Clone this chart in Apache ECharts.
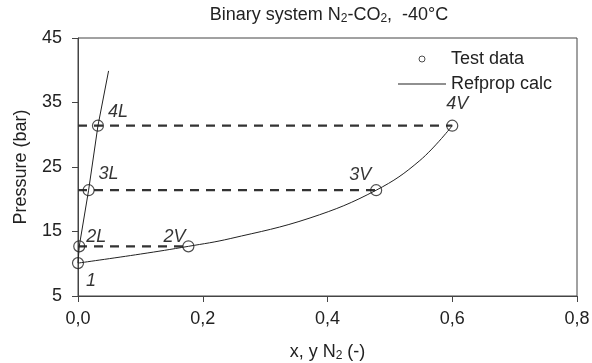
<!DOCTYPE html>
<html>
<head>
<meta charset="utf-8">
<script src="https://cdn.jsdelivr.net/npm/echarts@6/dist/echarts.min.js"></script>
<style>
  html, body { margin: 0; padding: 0; background: #fff; }
  #chart { width: 592px; height: 363px; }
</style>
</head>
<body>
<div id="chart"></div>
<script>
// test data points (x or y N2, pressure in bar)
var testNames = ['1', '2L', '2V', '3L', '3V', '4L', '4V'];
var testX = [0.000, 0.002, 0.177, 0.017, 0.478, 0.032, 0.600];
var testP = [10.1, 12.7, 12.7, 21.4, 21.4, 31.4, 31.4];

// refprop calc: bubble line and dew line
var bubbleX = [0.000, 0.002, 0.017, 0.032, 0.049];
var bubbleP = [10.1, 12.7, 21.4, 31.4, 39.9];
var dewX = [0.000, 0.100, 0.177, 0.244, 0.372, 0.478, 0.548, 0.600];
var dewP = [10.1, 11.5, 12.7, 13.9, 17.1, 21.4, 26.0, 31.4];

// tie lines L -> V (drawn from x = 0)
var tieP = [12.7, 21.4, 31.4];
var tieXV = [0.177, 0.478, 0.600];

var xTicks = [0, 0.2, 0.4, 0.6, 0.8];
var yTicks = [5, 15, 25, 35, 45];

// label offsets in px, relative to each point
var labelOffsets = [[13, 18], [17, -9], [-14, -9], [20, -16], [-16, -15], [20, -14], [5, -22]];

var font = 'Liberation Sans, Arial, sans-serif';
var dark = '#222';
var fs = 18;

function pairs(xs, ys) {
  return xs.map(function (x, i) { return [x, ys[i]]; });
}

var series = [];

tieP.forEach(function (p, i) {
  series.push({
    type: 'line',
    name: 'tie' + i,
    data: [[0, p], [tieXV[i], p]],
    symbol: 'none',
    silent: true,
    lineStyle: { color: '#333', width: 2.2, type: [9, 7] },
    z: 1
  });
});

series.push({
  type: 'line',
  name: 'Refprop calc',
  data: pairs(bubbleX, bubbleP),
  symbol: 'none',
  lineStyle: { color: dark, width: 1 },
  itemStyle: { color: dark },
  z: 2
});
series.push({
  type: 'line',
  name: 'Refprop calc',
  data: pairs(dewX, dewP),
  symbol: 'none',
  smooth: 0.4,
  lineStyle: { color: dark, width: 1 },
  itemStyle: { color: dark },
  z: 2
});

series.push({
  type: 'scatter',
  name: 'Test data',
  symbol: 'circle',
  symbolSize: 11,
  itemStyle: { color: 'rgba(255,255,255,0)', borderColor: dark, borderWidth: 1.2 },
  data: testX.map(function (x, i) {
    return {
      value: [x, testP[i]],
      label: {
        show: true,
        position: 'inside',
        offset: labelOffsets[i],
        formatter: testNames[i]
      }
    };
  }),
  label: {
    color: '#000',
    fontSize: fs,
    fontStyle: 'italic',
    fontFamily: font
  },
  z: 3
});

var chart = echarts.init(document.getElementById('chart'));
chart.setOption({
  animation: false,
  title: {
    text: 'Binary system N{sub|2}-CO{sub|2},  -40°C',
    left: 329,
    top: 5,
    padding: 0,
    textAlign: 'center',
    textStyle: {
      fontSize: 18,
      fontWeight: 'normal',
      color: dark,
      fontFamily: font,
      rich: {
        sub: { fontSize: 12, verticalAlign: 'bottom', padding: [8, 0, 0, 0], color: dark, fontFamily: font }
      }
    }
  },
  legend: {
    data: [
      { name: 'Test data', itemStyle: { borderWidth: 1 } },
      { name: 'Refprop calc', icon: 'path://M0,0h48v1h-48z' }
    ],
    orient: 'vertical',
    left: 398,
    top: 50,
    padding: 0,
    itemWidth: 48,
    itemHeight: 6,
    itemGap: 7,
    textStyle: { fontSize: fs, color: dark, fontFamily: font }
  },
  grid: {
    left: 78,
    right: 15,
    top: 38,
    bottom: 67,
    show: true,
    borderColor: '#444',
    borderWidth: 1,
    containLabel: false,
    outerBoundsMode: 'none'
  },
  xAxis: {
    type: 'value',
    min: 0,
    max: 0.8,
    interval: 0.2,
    name: 'x, y N{sub|2} (-)',
    nameLocation: 'middle',
    nameGap: 46,
    nameTextStyle: {
      fontSize: fs,
      color: dark,
      fontFamily: font,
      rich: {
        sub: { fontSize: 12, verticalAlign: 'bottom', padding: [8, 0, 0, 0], color: dark, fontFamily: font }
      }
    },
    axisLine: { lineStyle: { color: '#444', width: 1 } },
    axisTick: { show: true, length: 6, lineStyle: { color: '#444' } },
    splitLine: { show: false },
    axisLabel: {
      fontSize: fs,
      color: dark,
      fontFamily: font,
      margin: 14,
      formatter: function (v) { return v.toFixed(1).replace('.', ','); }
    }
  },
  yAxis: {
    type: 'value',
    min: 5,
    max: 45,
    interval: 10,
    name: 'Pressure (bar)',
    nameLocation: 'middle',
    nameGap: 48,
    nameTextStyle: { fontSize: fs, color: dark, fontFamily: font },
    axisLine: { show: true, lineStyle: { color: '#444', width: 1 } },
    axisTick: { show: true, length: 6, lineStyle: { color: '#444' } },
    splitLine: { show: false },
    axisLabel: { fontSize: fs, color: dark, fontFamily: font, margin: 16 }
  },
  series: series
});
</script>
</body>
</html>
